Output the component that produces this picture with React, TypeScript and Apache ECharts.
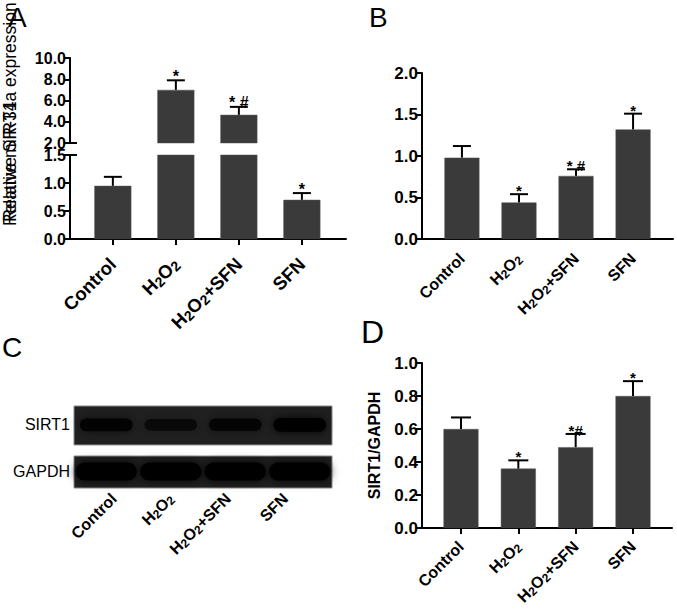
import React, { useEffect, useRef } from "react";
import * as echarts from "echarts";

const categories = ["Control", "H2O2", "H2O2+SFN", "SFN"];
const aMean = [0.95, 7.0, 4.65, 0.7];
const aUpper = [1.11, 7.9, 5.4, 0.82];
const aMarks = ["", "*", "* #", "*"];
const bMean = [0.98, 0.44, 0.76, 1.32];
const bUpper = [1.12, 0.54, 0.84, 1.51];
const bMarks = ["", "*", "* #", "*"];
const dMean = [0.6, 0.36, 0.49, 0.8];
const dUpper = [0.67, 0.41, 0.57, 0.89];
const dMarks = ["", "*", "*#", "*"];
const blotRows = ["SIRT1", "GAPDH"];
const sirt1Intensity = [0.8, 0.5, 0.7, 1.0];
const gapdhIntensity = [1.0, 1.0, 1.0, 1.0];

const FONT = "'Liberation Sans', Arial, Helvetica, sans-serif";
const BAR = "#3a3a3a";

function richName(name: string) {
  return name
    .split(/(2)/)
    .filter((t) => t.length > 0)
    .map((t) => (t === "2" ? `{s|2}` : `{n|${t}}`))
    .join("");
}

function catLabel(size: number, margin: number, sub: number) {
  return {
    show: true,
    rotate: 45,
    margin,
    customValues: [0, 1, 2, 3],
    formatter: (v: number) => richName(categories[Math.round(v)] ?? ""),
    rich: {
      n: { fontSize: size, fontWeight: "bold", fontFamily: FONT, color: "#000", lineHeight: size + 2 },
      s: { fontSize: sub, fontWeight: "bold", fontFamily: FONT, color: "#000", lineHeight: sub, verticalAlign: "bottom" },
    },
  };
}

const axisLineStyle = { show: true, onZero: false, lineStyle: { color: "#000", width: 2 } };

function yAxisCfg(gridIndex: number, min: number, max: number, interval: number, size: number, extra: any = {}) {
  return {
    type: "value",
    gridIndex,
    min,
    max,
    interval,
    axisLine: axisLineStyle,
    axisTick: { show: true, length: 6, lineStyle: { color: "#000", width: 2 } },
    splitLine: { show: false },
    axisLabel: {
      margin: 4,
      fontSize: size,
      lineHeight: 12,
      fontWeight: "bold",
      fontFamily: FONT,
      color: "#000",
      formatter: (v: number) => v.toFixed(1),
    },
    ...extra,
  };
}

function barSeries(xAxisIndex: number, yAxisIndex: number, vals: (number | null)[], width: number) {
  return {
    type: "bar",
    xAxisIndex,
    yAxisIndex,
    barWidth: width,
    clip: true,
    itemStyle: { color: BAR, borderColor: "#555", borderWidth: 0.5 },
    data: vals.map((v, i) => (v === null ? [i, "-"] : [i, v])),
    z: 2,
  };
}

function errorSeries(
  xAxisIndex: number,
  yAxisIndex: number,
  mean: number[],
  upper: number[],
  marks: string[],
  keep: (m: number) => boolean,
  capW: number,
  starSize: number
) {
  const data = mean.map((m, i) => [i, m, upper[i]]).filter((d) => keep(d[1]));
  return {
    type: "custom",
    xAxisIndex,
    yAxisIndex,
    clip: false,
    z: 10,
    data,
    renderItem: (params: any, api: any) => {
      const i = api.value(0);
      const p0 = api.coord([i, api.value(1)]);
      const p1 = api.coord([i, api.value(2)]);
      const style = { stroke: "#000", lineWidth: 2 };
      return {
        type: "group",
        children: [
          { type: "line", shape: { x1: p0[0], y1: p0[1], x2: p1[0], y2: p1[1] }, style },
          { type: "line", shape: { x1: p1[0] - capW / 2, y1: p1[1], x2: p1[0] + capW / 2, y2: p1[1] }, style },
          {
            type: "text",
            style: {
              text: marks[i],
              x: p1[0],
              y: p1[1] + 4,
              align: "center",
              verticalAlign: "bottom",
              font: `bold ${starSize}px ${FONT}`,
              fill: "#000",
            },
          },
        ],
      };
    },
  };
}

// layout
const A = { left: 70, width: 276, upTop: 58, upH: 85, loTop: 155, loH: 84 };
const B = { left: 422, top: 73, width: 251, height: 166 };
const D = { left: 422, top: 363, width: 250, height: 165 };
const C = { left: 74, top: 406, width: 258, height: 82 };
const rowBox = [
  [0, 0.475],
  [0.61, 1.0],
];
const rowCenter = [0.23, 0.8];
const rowBandH = [13, 18];
const rowBandW = [0.82, 0.95];

export default function App() {
  const ref = useRef<HTMLDivElement>(null);
  useEffect(() => {
    if (!ref.current) return;
    const chart = echarts.init(ref.current, null, { renderer: "svg" });
    const blotData: any[] = [];
    sirt1Intensity.forEach((v, i) => blotData.push([i, 0, v]));
    gapdhIntensity.forEach((v, i) => blotData.push([i, 1, v]));

    const option: any = {
      animation: false,
      backgroundColor: "#fff",
      textStyle: { fontFamily: FONT },
      grid: [
        { left: A.left, top: A.upTop, width: A.width, height: A.upH },
        { left: A.left, top: A.loTop, width: A.width, height: A.loH },
        { left: B.left, top: B.top, width: B.width, height: B.height },
        { left: D.left, top: D.top, width: D.width, height: D.height },
        { left: C.left, top: C.top, width: C.width, height: C.height },
      ],
      xAxis: [
        { type: "value", gridIndex: 0, min: -0.68, max: 3.7, show: false },
        {
          type: "value",
          gridIndex: 1,
          min: -0.68,
          max: 3.7,
          axisLine: axisLineStyle,
          axisTick: { show: true, customValues: [0, 1, 2, 3], length: 6, lineStyle: { color: "#000", width: 2 } },
          splitLine: { show: false },
          axisLabel: catLabel(18.5, 22, 14),
        },
        {
          type: "value",
          gridIndex: 2,
          min: -0.7,
          max: 3.7,
          axisLine: axisLineStyle,
          axisTick: { show: false },
          splitLine: { show: false },
          axisLabel: catLabel(16, 17, 12),
        },
        {
          type: "value",
          gridIndex: 3,
          min: -0.68,
          max: 3.68,
          axisLine: axisLineStyle,
          axisTick: { show: true, customValues: [0, 1, 2, 3], length: 6, lineStyle: { color: "#000", width: 2 } },
          splitLine: { show: false },
          axisLabel: catLabel(16, 16, 12),
        },
        { type: "value", gridIndex: 4, min: -0.5, max: 3.5, show: false },
        {
          type: "value",
          gridIndex: 4,
          position: "bottom",
          min: -0.7,
          max: 3.82,
          axisLine: { show: false },
          axisTick: { show: false },
          splitLine: { show: false },
          axisLabel: catLabel(16, 8, 12),
        },
      ],
      yAxis: [
        yAxisCfg(0, 2, 10, 2, 16),
        yAxisCfg(1, 0, 1.5, 0.5, 16),
        yAxisCfg(2, 0, 2, 0.5, 17),
        yAxisCfg(3, 0, 1, 0.2, 17, {
          name: "SIRT1/GAPDH",
          nameLocation: "middle",
          nameGap: 40,
          nameTextStyle: { fontSize: 16, fontWeight: "bold", fontFamily: FONT, color: "#000" },
        }),
        {
          type: "value",
          gridIndex: 4,
          min: 0,
          max: 1,
          inverse: true,
          axisLine: { show: false },
          axisTick: { show: false },
          splitLine: { show: false },
          axisLabel: {
            margin: 4,
            customValues: rowCenter,
            formatter: (v: number) => blotRows[rowCenter.indexOf(v)] ?? "",
            fontSize: 16,
            fontFamily: FONT,
            color: "#000",
          },
        },
      ],
      series: [
        barSeries(0, 0, aMean.map((v) => (v > 2 ? v : null)), 37),
        barSeries(1, 1, aMean, 37),
        errorSeries(0, 0, aMean, aUpper, aMarks, (m) => m > 1.5, 18, 16),
        errorSeries(1, 1, aMean, aUpper, aMarks, (m) => m <= 1.5, 18, 16),
        barSeries(2, 2, bMean, 35),
        errorSeries(2, 2, bMean, bUpper, bMarks, () => true, 18, 15),
        barSeries(3, 3, dMean, 35),
        errorSeries(3, 3, dMean, dUpper, dMarks, () => true, 20, 15),
        {
          type: "custom",
          xAxisIndex: 4,
          yAxisIndex: 4,
          z: 1,
          data: blotRows.map((_, r) => [r]),
          renderItem: (params: any, api: any) => {
            const r = api.value(0);
            const cs = params.coordSys;
            const t = api.coord([-0.5, rowBox[r][0]])[1];
            const b = api.coord([-0.5, rowBox[r][1]])[1];
            return {
              type: "rect",
              shape: { x: cs.x, y: t, width: cs.width, height: b - t },
              style: { fill: "#202020", stroke: "#8a8a8a", lineWidth: 1 },
            };
          },
        },
        {
          type: "custom",
          xAxisIndex: 4,
          yAxisIndex: 4,
          z: 2,
          data: blotData,
          renderItem: (params: any, api: any) => {
            const lane = api.value(0);
            const r = api.value(1);
            const inten = api.value(2);
            const c = api.coord([lane, rowCenter[r]]);
            const w = api.size([rowBandW[r], 0])[0];
            const h = rowBandH[r] * (r === 0 ? 0.75 + 0.3 * inten : 1);
            return {
              type: "rect",
              shape: { x: c[0] - w / 2, y: c[1] - h / 2, width: w, height: h, r: h / 2 },
              style: {
                fill: `rgba(0,0,0,${0.3 + 0.7 * inten})`,
                shadowBlur: 10,
                shadowColor: `rgba(0,0,0,${0.9 * inten})`,
              },
            };
          },
        },
      ],
      graphic: [
        { type: "text", left: 8, top: 3, style: { text: "A", font: `28px ${FONT}`, fill: "#000" } },
        { type: "text", left: 369, top: 3, style: { text: "B", font: `28px ${FONT}`, fill: "#000" } },
        { type: "text", left: 2, top: 333, style: { text: "C", font: `28px ${FONT}`, fill: "#000" } },
        { type: "text", left: 361, top: 316, style: { text: "D", font: `32px ${FONT}`, fill: "#000" } },
        {
          type: "text",
          x: 10,
          y: 226,
          rotation: Math.PI / 2,
          style: { text: "Relative miR-34a expression", font: `17.5px ${FONT}`, fill: "#000", align: "left", verticalAlign: "middle" },
        },
        {
          type: "text",
          x: 10,
          y: 222,
          rotation: Math.PI / 2,
          style: { text: "Relative SIRT1", font: `18px ${FONT}`, fill: "#000", align: "left", verticalAlign: "middle" },
        },
        {
          type: "line",
          shape: { x1: A.left, y1: A.upTop + A.upH, x2: A.left + 7, y2: A.upTop + A.upH },
          style: { stroke: "#000", lineWidth: 2 },
        },
        {
          type: "line",
          shape: { x1: A.left, y1: A.loTop, x2: A.left + 7, y2: A.loTop },
          style: { stroke: "#000", lineWidth: 2 },
        },
      ],
    };
    chart.setOption(option);
    return () => chart.dispose();
  }, []);
  return <div ref={ref} style={{ position: "fixed", left: 0, top: 0, width: 677, height: 615, background: "#fff" }} />;
}
